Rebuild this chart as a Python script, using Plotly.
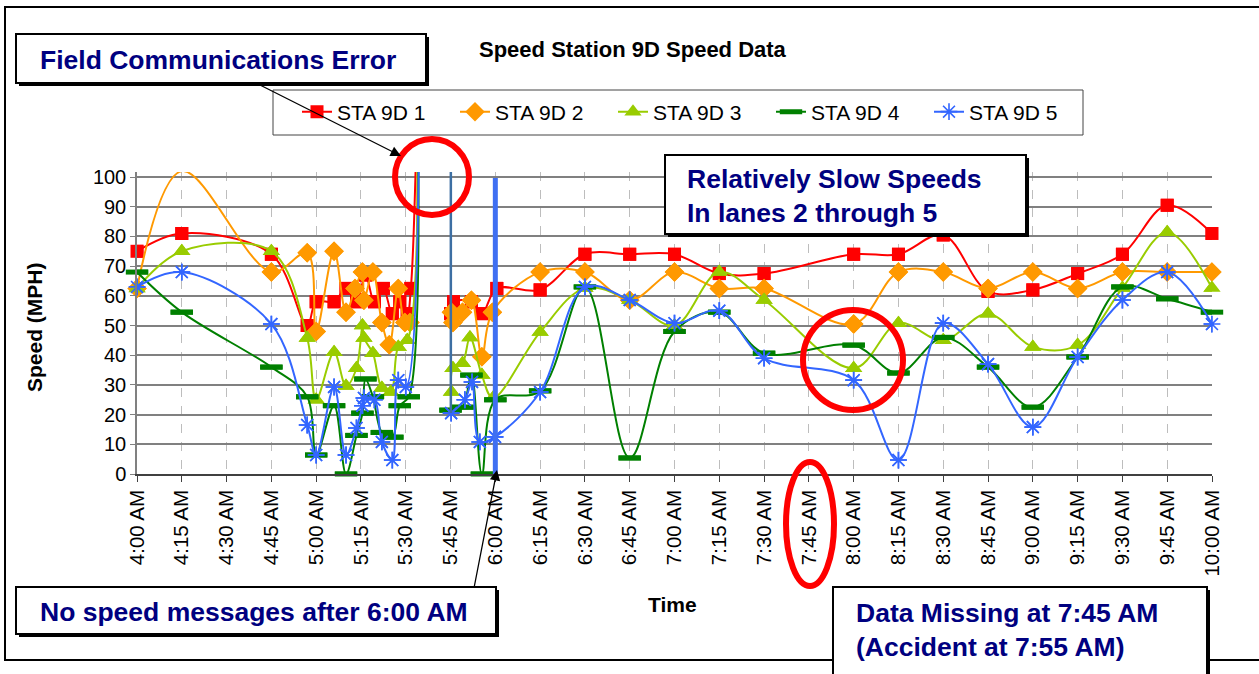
import plotly.graph_objects as go

# ---------------- data (minutes after 4:00 AM, speed in MPH) ----------------
tick_minutes = list(range(0, 361, 15))
tick_labels = ["4:00 AM", "4:15 AM", "4:30 AM", "4:45 AM", "5:00 AM", "5:15 AM", "5:30 AM",
               "5:45 AM", "6:00 AM", "6:15 AM", "6:30 AM", "6:45 AM", "7:00 AM", "7:15 AM",
               "7:30 AM", "7:45 AM", "8:00 AM", "8:15 AM", "8:30 AM", "8:45 AM", "9:00 AM",
               "9:15 AM", "9:30 AM", "9:45 AM", "10:00 AM"]
y_ticks = [0, 10, 20, 30, 40, 50, 60, 70, 80, 90, 100]

# off-scale (error) readings are recorded as 110
t1 = [0, 15, 45, 57, 60, 66, 70, 73.5, 76.5, 79.5, 82.5, 85.5, 88, 90.5, 91.7, 93.5, None,
      105, 106, 112, 115.5, 120.5, 135, 150, 165, 180, 195, 210, 240, 255, 270, 285, 300, 315, 330, 345, 360]
v1 = [75, 81, 74, 50, 58, 58, 62.5, 58, 67, 58, 62.5, 54, 58, 54, 62.5, 110, None,
      54, 58, 58, 54, 62.5, 62, 74, 74, 74, 67.5, 67.5, 74, 74, 80.5, 61.5, 62, 67.5, 74, 90.5, 81]

t2 = [0, 15, 45, 57, 60, 66, 70, 73, 75.5, 76, 79, 82, 84.5, 87.5, 89.7, 91.4, 93.8, None,
      105.3, 105.8, 109, 112, 115.5, 119, 135, 150, 165, 180, 195, 210, 240, 255, 270, 285, 300, 315, 330, 345, 360]
v2 = [62.5, 102, 68, 74.5, 48, 75, 54.5, 62.5, 68, 58.5, 68, 51, 43.5, 62.5, 51, 51, 110, None,
      54.5, 51, 54.5, 58.5, 39.5, 54.5, 68, 68, 58.5, 68, 62.5, 62.5, 50.5, 68, 68, 62.5, 68, 62.5, 68, 68, 68]

t3 = [0, 15, 45, 57, 60, 66, 70, 73.5, 75.5, 76, 79, 82, 85, 87.5, 90.5, 94, None,
      105.3, 105.8, 109, 111.5, 115.5, 119.2, 135, 150, 165, 180, 195, 210, 240, 255, 270, 285, 300, 315, 330, 345, 360]
v3 = [62.5, 75, 75, 45.8, 25, 41, 29.6, 35.6, 50, 45.8, 40.7, 29, 27.6, 42.8, 45, 110, None,
      27.6, 35.6, 37.3, 46, 33.3, 25.6, 47.8, 62.6, 58.6, 50, 68, 58.6, 35.6, 50.8, 45, 54, 42.8, 43.4, 62.6, 81.4, 62.6]

t4 = [0, 15, 45, 57, 60, 66, 70, 73.5, 75.5, 76.5, 79, 82, 85.5, 88, 91, 94.2, None,
      105, 109, 112, 115.5, 120, 135, 150, 165, 180, 195, 210, 240, 255, 270, 285, 300, 315, 330, 345, 360]
v4 = [68, 54.5, 36, 26, 6.4, 23, 0, 13, 20.5, 32, 26, 14, 12.4, 23, 26, 110, None,
      21.5, 22.5, 33.3, 0, 25, 28, 63, 5.4, 48, 54.5, 40.7, 43.4, 34, 46, 36, 22.5, 39.4, 63, 59, 54.5]

t5 = [0, 15, 45, 57, 60, 66, 70, 73.5, 75.5, 76, 79.5, 82, 85.5, 87.5, 90, 94.4, None,
      105.2, 109.8, 112.2, 114.8, 119.9, 135, 150, 165, 180, 195, 210, 240, 255, 270, 285, 300, 315, 330, 345, 360]
v5 = [63, 68, 50.5, 16.5, 6.4, 29.3, 6.4, 15.5, 23, 25.6, 25, 10.8, 4.7, 31.6, 29.3, 110, None,
      20.5, 25, 31, 10.8, 12.5, 27.6, 63, 58.6, 50.8, 55, 39, 31.6, 4.7, 50.8, 37, 15.8, 39.4, 58.6, 68, 50.5]

# communications error spike at 5:45 AM
spike_t = [105.1, 105.1]
spike_v = [110, 20.5]

series_names = ["STA 9D 1", "STA 9D 2", "STA 9D 3", "STA 9D 4", "STA 9D 5"]

# ---------------- figure ----------------
W, H = 1259, 674
L, R, T, B = 137, 47, 172, 200
PW, PH = W - L - R, H - T - B
Y_TOP = 101.7


def px(x):
    return (x - L) / PW


def py(y):
    return (H - B - y) / PH


FONT = "Liberation Sans, Arial, sans-serif"
NAVY = "#000080"

fig = go.Figure()

styles = [
    dict(color="#FF0000", marker=dict(symbol="square", size=13, color="#FF0000")),
    dict(color="#FF9900", marker=dict(symbol="diamond", size=15, color="#FF9900")),
    dict(color="#99CC00", marker=dict(symbol="triangle-up", size=15, color="#99CC00")),
    dict(color="#008000", marker=dict(symbol="line-ew", size=16, color="#008000",
                                      line=dict(width=5, color="#008000"))),
    dict(color="#3366FF", marker=dict(symbol="asterisk", size=14, color="#3366FF",
                                      line=dict(width=1.6, color="#3366FF"))),
]

for name, tt, vv, st in zip(series_names, [t1, t2, t3, t4, t5], [v1, v2, v3, v4, v5], styles):
    # line (clipped to the plot area, like the original chart)
    fig.add_trace(go.Scatter(
        x=tt, y=vv, name=name, mode="lines+markers", legendgroup=name,
        line=dict(color=st["color"], width=2, shape="spline", smoothing=1.0),
        marker=st["marker"], connectgaps=False, cliponaxis=True,
    ))
    # markers on top, not clipped at the axis edges; off-scale points carry no marker
    on_scale = [v if (v is not None and v <= 100) else None for v in vv]
    fig.add_trace(go.Scatter(
        x=tt, y=on_scale, mode="markers", showlegend=False, legendgroup=name,
        marker=st["marker"], cliponaxis=False, hoverinfo="skip",
    ))

fig.add_trace(go.Scatter(x=spike_t, y=spike_v, mode="lines", showlegend=False,
                         line=dict(color="#3d6fa3", width=2.5), hoverinfo="skip", cliponaxis=True))

shapes = []


def box(x0, y0, x1, y1, shadow=3):
    if shadow:
        shapes.append(dict(type="rect", xref="paper", yref="paper",
                           x0=px(x0 + shadow), x1=px(x1 + shadow), y0=py(y0 + shadow), y1=py(y1 + shadow),
                           fillcolor="black", line=dict(width=0), layer="above"))
    shapes.append(dict(type="rect", xref="paper", yref="paper",
                       x0=px(x0), x1=px(x1), y0=py(y0), y1=py(y1),
                       fillcolor="white", line=dict(color="black", width=2), layer="above"))


# outer frame
shapes.append(dict(type="rect", xref="paper", yref="paper", x0=px(5), x1=px(1264), y0=py(7), y1=py(660),
                   line=dict(color="black", width=2), fillcolor="rgba(0,0,0,0)", layer="below"))
# legend frame
shapes.append(dict(type="rect", xref="paper", yref="paper", x0=px(273), x1=px(1083), y0=py(90), y1=py(135),
                   line=dict(color="#444444", width=1), fillcolor="white", layer="above"))
box(16, 34, 426, 83)
box(665, 155, 1026, 234)
box(16, 587, 496, 634)
box(833, 587, 1207, 690)

# thick blue marker line at 6:00 AM
shapes.append(dict(type="line", xref="x", yref="paper", x0=120, x1=120, y0=0, y1=py(178),
                   line=dict(color="#3f6ff2", width=5), layer="above"))

# red circles
for (cx, cy, rx, ry) in [(432, 177, 37, 38), (853, 360, 50, 50), (810, 524, 24, 62)]:
    shapes.append(dict(type="circle", xref="paper", yref="paper",
                       x0=px(cx - rx), x1=px(cx + rx), y0=py(cy - ry), y1=py(cy + ry),
                       line=dict(color="#FF0000", width=6), fillcolor="rgba(0,0,0,0)", layer="above"))

annotations = [
    dict(text="<b>Speed Station 9D Speed Data</b>", x=px(633), y=py(49), xref="paper", yref="paper",
         showarrow=False, font=dict(family=FONT, size=22, color="black"), xanchor="center", yanchor="middle"),
    dict(text="<b>Field Communications Error</b>", x=px(38), y=py(60), xref="paper", yref="paper",
         showarrow=False, font=dict(family=FONT, size=26.5, color=NAVY), xanchor="left", yanchor="middle"),
    dict(text="<b>Relatively Slow Speeds<br>In lanes 2 through 5</b>", x=px(685), y=py(196),
         xref="paper", yref="paper", showarrow=False, align="left",
         font=dict(family=FONT, size=26.5, color=NAVY), xanchor="left", yanchor="middle"),
    dict(text="<b>No speed messages after 6:00 AM</b>", x=px(38), y=py(612), xref="paper", yref="paper",
         showarrow=False, font=dict(family=FONT, size=26.5, color=NAVY), xanchor="left", yanchor="middle"),
    dict(text="<b>Data Missing at 7:45 AM<br>(Accident at 7:55 AM)</b>", x=px(854), y=py(630),
         xref="paper", yref="paper", showarrow=False, align="left",
         font=dict(family=FONT, size=26.5, color=NAVY), xanchor="left", yanchor="middle"),
    dict(text="<b>Time</b>", x=px(672), y=py(604), xref="paper", yref="paper", showarrow=False,
         font=dict(family=FONT, size=21, color="black"), xanchor="center", yanchor="middle"),
    dict(text="<b>Speed (MPH)</b>", x=px(34), y=py(327), xref="paper", yref="paper", showarrow=False,
         textangle=-90, font=dict(family=FONT, size=21, color="black"), xanchor="center", yanchor="middle"),
    # arrows
    dict(text="", x=px(401), y=py(156), xref="paper", yref="paper", showarrow=True,
         ax=258 - 401, ay=84 - 156, arrowhead=2, arrowsize=1.6, arrowwidth=1.3, arrowcolor="black"),
    dict(text="", x=px(497), y=py(470), xref="paper", yref="paper", showarrow=True,
         ax=474 - 497, ay=588 - 470, arrowhead=2, arrowsize=1.6, arrowwidth=1.3, arrowcolor="black"),
]

fig.update_layout(
    width=W, height=H,
    margin=dict(l=L, r=R, t=T, b=B, pad=0),
    paper_bgcolor="white", plot_bgcolor="white",
    font=dict(family=FONT, size=20, color="black"),
    showlegend=True,
    legend=dict(orientation="h", x=px(297), y=py(112), xanchor="left", yanchor="middle",
                bgcolor="rgba(0,0,0,0)", borderwidth=0, font=dict(family=FONT, size=21, color="black"),
                entrywidth=113, entrywidthmode="pixels", itemwidth=30, traceorder="normal"),
    shapes=shapes,
    annotations=annotations,
    xaxis=dict(range=[0, 360], tickmode="array", tickvals=tick_minutes, ticktext=tick_labels,
               tickangle=-90, tickfont=dict(family=FONT, size=20.5, color="black"),
               showgrid=True, gridcolor="#bdbdbd", griddash="dash", gridwidth=1,
               showline=True, linecolor="#404040", linewidth=1.5, ticks="outside", ticklen=6,
               tickcolor="#404040", zeroline=False, fixedrange=True),
    yaxis=dict(range=[0, Y_TOP], tickmode="array", tickvals=y_ticks,
               tickfont=dict(family=FONT, size=20, color="black"),
               showgrid=True, gridcolor="#808080", gridwidth=1.6,
               showline=True, linecolor="#808080", linewidth=1.5, ticks="outside", ticklen=5,
               tickcolor="#808080", zeroline=False, fixedrange=True),
)

fig.write_html("out.html", config={"displayModeBar": False},
               post_script="document.body.style.margin='0';document.body.style.overflow='hidden';")
